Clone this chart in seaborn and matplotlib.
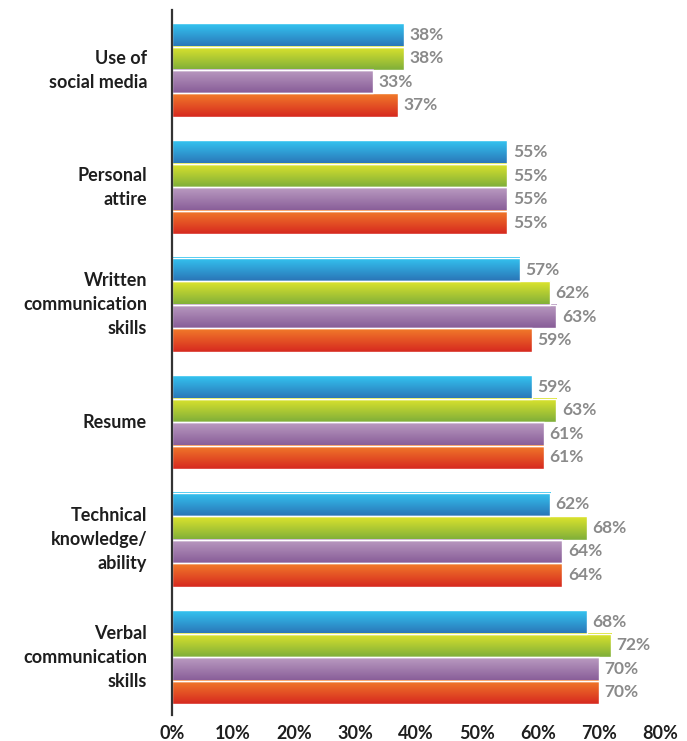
import numpy as np
import pandas as pd
import matplotlib
matplotlib.use("Agg")
import matplotlib.pyplot as plt
import seaborn as sns
from matplotlib.colors import LinearSegmentedColormap

categories = ["Use of\nsocial media", "Personal\nattire", "Written\ncommunication\nskills",
              "Resume", "Technical\nknowledge/\nability", "Verbal\ncommunication\nskills"]
series_names = ["Group 1", "Group 2", "Group 3", "Group 4"]
group1 = [38, 55, 57, 59, 62, 68]
group2 = [38, 55, 62, 63, 68, 72]
group3 = [33, 55, 63, 61, 64, 70]
group4 = [37, 55, 59, 61, 64, 70]
tick_values = [0, 10, 20, 30, 40, 50, 60, 70, 80]
tick_labels = ["0%", "10%", "20%", "30%", "40%", "50%", "60%", "70%", "80%"]

# top / bottom colour of each series' vertical gradient
gradients = [("#34c6f2", "#2a74b6"),
             ("#dfe52c", "#7eae3a"),
             ("#bb9cc2", "#875c97"),
             ("#f27d2a", "#d6281f")]

sns.set_theme(style="white")
plt.rcParams["font.family"] = ["Lato", "DejaVu Sans"]

df = pd.DataFrame({
    "category": np.repeat(categories, 4),
    "series": series_names * len(categories),
    "value": np.ravel(np.column_stack([group1, group2, group3, group4])),
})

fig = plt.figure(figsize=(6.87, 7.41), dpi=100)
ax = fig.add_axes([0.2504, 0.035, 0.7146, 0.9515])

palette = [g[1] for g in gradients]
sns.barplot(data=df, y="category", x="value", hue="series", order=categories,
            hue_order=series_names, palette=palette, orient="h", width=0.8,
            legend=False, ax=ax, saturation=1, errorbar=None)

ax.set_xlim(0, 80.5)
ax.set_ylim(5.494, -0.511)

# repaint each bar with a vertical gradient
grad = np.linspace(0, 1, 256).reshape(-1, 1)
for container, (top, bottom) in zip(ax.containers, gradients):
    cmap = LinearSegmentedColormap.from_list("g", [top, bottom])
    for bar in container:
        x0, y0 = bar.get_x(), bar.get_y()
        w, h = bar.get_width(), bar.get_height()
        ax.imshow(grad, cmap=cmap, aspect="auto", interpolation="bilinear",
                  extent=(x0, x0 + w, y0 + h, y0), zorder=2)
        bar.set_facecolor("none")
        bar.set_edgecolor("white")
        bar.set_linewidth(1.0)
        bar.set_zorder(3)

for container, vals in zip(ax.containers, [group1, group2, group3, group4]):
    ax.bar_label(container, labels=[f"{v}%" for v in vals], padding=4,
                 color="#8a8a8a", fontsize=12.5, fontweight="bold")

ax.set_xlim(0, 80.5)
ax.set_ylim(5.494, -0.511)
ax.set_xticks(tick_values)
ax.set_xticklabels(tick_labels, fontsize=13, fontweight="bold", color="#1e1e1e")
ax.set_yticks(range(len(categories)))
ax.set_yticklabels(categories, fontsize=13, fontweight="bold", color="#1e1e1e",
                   linespacing=1.5, ha="right", multialignment="right")
for lab in ax.get_yticklabels():
    lab.set_verticalalignment("center")
ax.tick_params(axis="y", length=0, pad=18)
ax.tick_params(axis="x", length=0, pad=7)
ax.set_xlabel("")
ax.set_ylabel("")
for side in ["top", "right", "bottom"]:
    ax.spines[side].set_visible(False)
ax.spines["left"].set_color("#333333")
ax.spines["left"].set_linewidth(1.6)
ax.spines["left"].set_zorder(5)
ax.grid(False)

fig.savefig("out.png", dpi=100, facecolor="white")
